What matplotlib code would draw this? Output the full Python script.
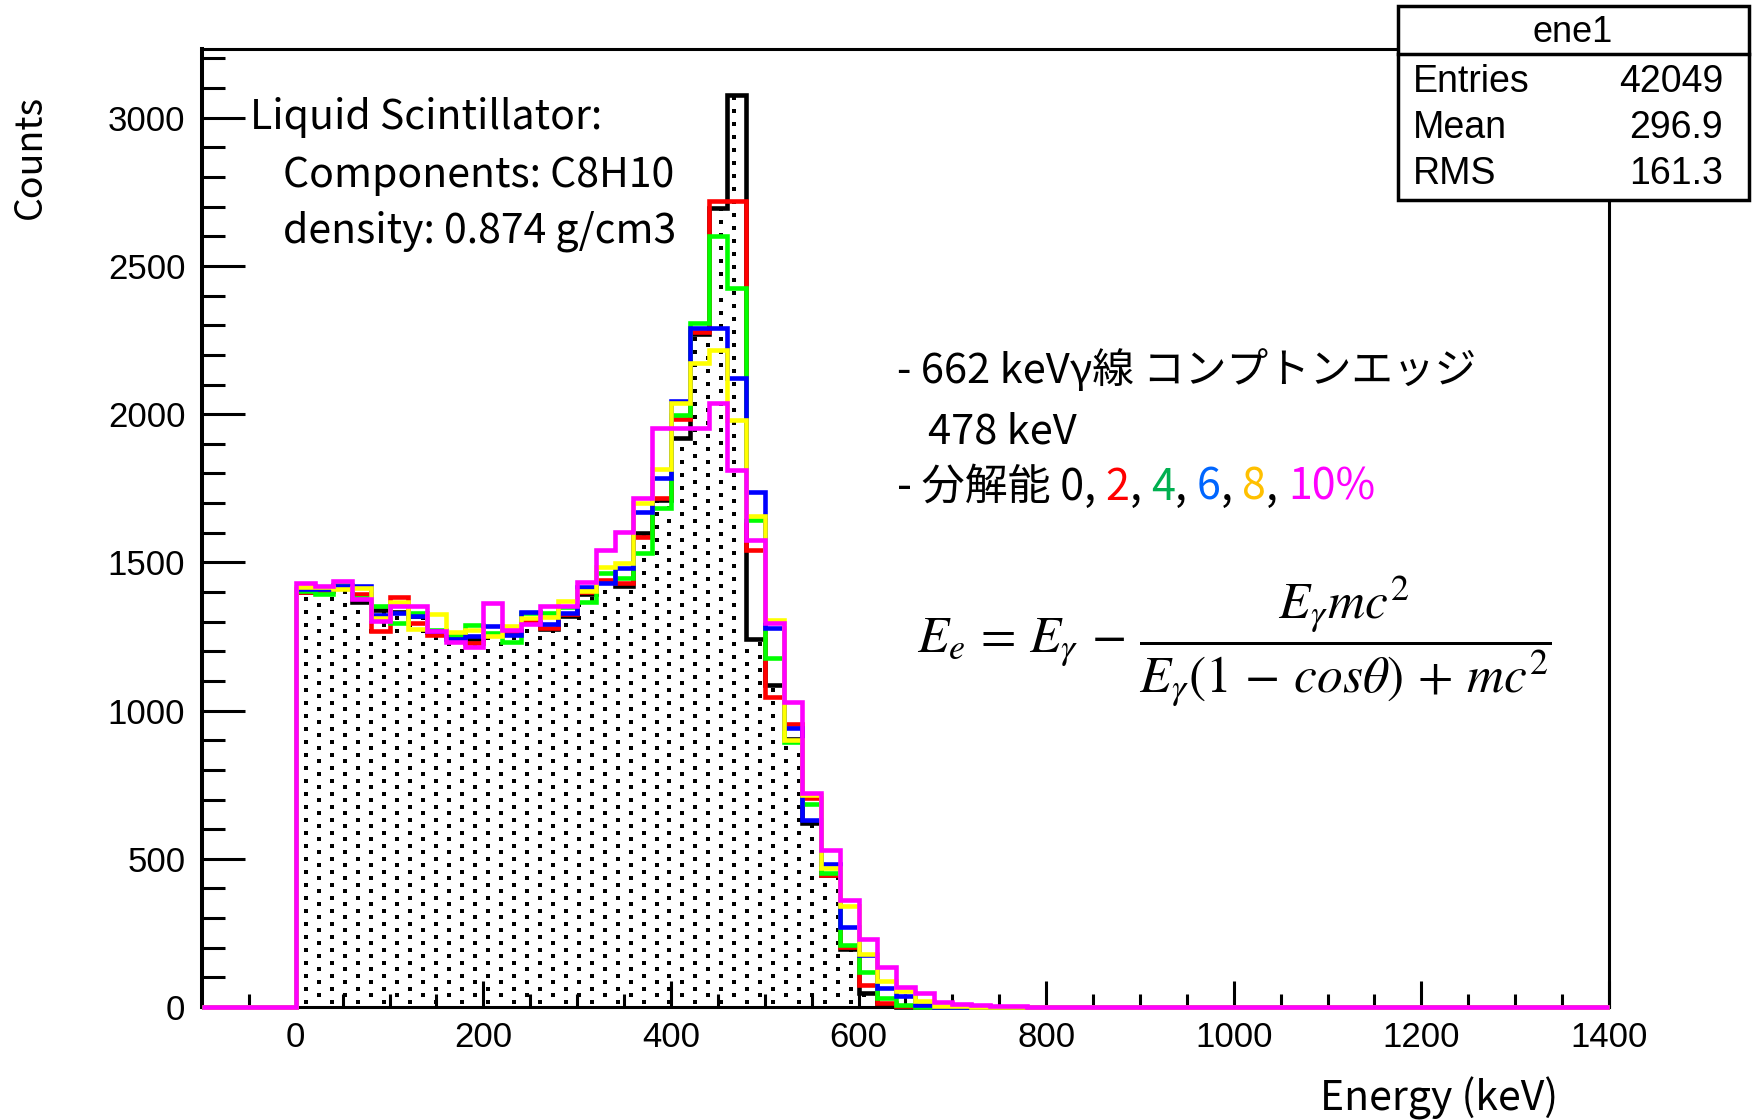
import matplotlib.pyplot as plt
import numpy as np
from matplotlib.patches import Rectangle
from matplotlib.lines import Line2D

# bin contents, 20 keV bins starting at 0 keV
res_0 = [1400, 1405, 1420, 1367, 1340, 1333, 1318, 1265, 1250, 1242,
         1255, 1265, 1300, 1274, 1319, 1395, 1435, 1420, 1598, 1710,
         1918, 2270, 2697, 3077, 1242, 1086, 905, 620, 445, 195,
         48, 8, 1]
res_2 = [1399, 1405, 1420, 1393, 1269, 1382, 1296, 1255, 1257, 1229,
         1260, 1262, 1301, 1277, 1325, 1400, 1441, 1432, 1587, 1716,
         1984, 2276, 2720, 2720, 1541, 1047, 955, 705, 445, 203,
         74, 12, 2]
res_4 = [1405, 1395, 1424, 1380, 1354, 1294, 1328, 1273, 1255, 1290,
         1262, 1230, 1328, 1330, 1350, 1368, 1465, 1447, 1532, 1685,
         1997, 2309, 2601, 2425, 1643, 1176, 895, 685, 452, 209,
         119, 29, 7, 1]
res_6 = [1409, 1410, 1420, 1422, 1321, 1330, 1320, 1270, 1243, 1250,
         1285, 1255, 1334, 1292, 1330, 1418, 1432, 1480, 1671, 1784,
         2046, 2290, 2290, 2121, 1737, 1277, 940, 631, 483, 271,
         175, 65, 37, 7, 1]
res_8 = [1418, 1418, 1409, 1412, 1312, 1367, 1275, 1325, 1265, 1272,
         1251, 1285, 1313, 1317, 1370, 1405, 1483, 1497, 1700, 1815,
         2037, 2172, 2217, 1980, 1656, 1306, 900, 715, 468, 342,
         180, 89, 54, 21, 4, 2, 1]
res_10 = [1429, 1422, 1437, 1378, 1303, 1352, 1352, 1269, 1231, 1215,
          1363, 1272, 1292, 1352, 1352, 1435, 1542, 1604, 1716, 1955,
          1955, 1955, 2037, 1812, 1576, 1294, 1030, 721, 531, 360,
          228, 136, 69, 46, 18, 10, 7, 4, 2, 1]

series = [res_0, res_2, res_4, res_6, res_8, res_10]
colors = ['black', '#ff0000', '#00ff00', '#0000ff', '#ffff00', '#ff00ff']

stats_names = ['Entries', 'Mean', 'RMS']
stats_vals = ['42049', '296.9', '161.3']

edges = np.arange(-100, 1401, 20)
nbins = len(edges) - 1


def full(v):
    h = np.zeros(nbins)
    h[5:5 + len(v)] = v
    return h


W, H = 1758, 1120


def fx(x):
    return x / W


def fy(y):
    return 1 - y / H


plt.rcParams['font.family'] = ['Liberation Sans', 'DejaVu Sans']
plt.rcParams['mathtext.fontset'] = 'stix'

fig = plt.figure(figsize=(W / 100, H / 100), dpi=100)
ax = fig.add_axes([fx(202), fy(1007), fx(1609) - fx(202), fy(49) - fy(1007)])

# dotted fill under the 0% histogram (ROOT style dot pattern)
area = ax.stairs(full(res_0), edges, fill=True, facecolor='none', linewidth=0)
dx, dy = 13.85, 43.86
cols = np.arange(-3.25, 1400, dx)
px, py = [], []
for i, c in enumerate(cols):
    ys = np.arange(40.2 - (i % 2) * dy / 2, 3232, dy)
    px.extend([c] * len(ys))
    py.extend(ys)
dots = ax.scatter(px, py, s=4.7, marker='s', color='black', linewidths=0)
dots.set_clip_path(area)

for v, c in zip(series, colors):
    ax.stairs(full(v), edges, color=c, linewidth=3.3, zorder=3, clip_on=False)

ax.set_xlim(-100, 1400)
ax.set_ylim(0, 3232)
ax.set_xticks(np.arange(0, 1401, 200))
ax.set_xticks(np.arange(-50, 1400, 50), minor=True)
ax.set_yticks(np.arange(0, 3001, 500))
ax.set_yticks(np.arange(100, 3232, 100), minor=True)
ax.tick_params(axis='y', which='major', direction='in', length=31, width=2.2,
               labelsize=25, pad=12)
ax.tick_params(axis='y', which='minor', direction='in', length=16.5, width=2.2)
ax.tick_params(axis='x', which='major', direction='in', length=19, width=2.2,
               labelsize=25, pad=10)
ax.tick_params(axis='x', which='minor', direction='in', length=9.5, width=2.2)
ax.spines['left'].set_linewidth(2.9)
for s in ['top', 'right', 'bottom']:
    ax.spines[s].set_linewidth(2.2)

jp = ['Noto Sans CJK JP', 'DejaVu Sans']

fig.text(fx(30), fy(95), 'Counts', rotation=90, ha='center', va='top',
         fontsize=27, family=jp)
fig.text(fx(1558), fy(1110), 'Energy (keV)', ha='right', va='baseline',
         fontsize=29.5, family=jp)

fig.text(fx(250), fy(129), 'Liquid Scintillator:', fontsize=29.5, family=jp,
         va='baseline')
fig.text(fx(283), fy(187), 'Components: C8H10', fontsize=29.5, family=jp,
         va='baseline')
fig.text(fx(283), fy(243), 'density: 0.874 g/cm3', fontsize=29.5, family=jp,
         va='baseline')

fig.text(fx(897), fy(383), '- 662 keVγ線 コンプトンエッジ', fontsize=30,
         family=jp, va='baseline')
fig.text(fx(928), fy(443), '478 keV', fontsize=30, family=jp, va='baseline')

parts = [('- 分解能 0, ', 'black'), ('2', '#ff0000'), (', ', 'black'),
         ('4', '#00b050'), (', ', 'black'), ('6', '#0066ff'), (', ', 'black'),
         ('8', '#ffc000'), (', ', 'black'), ('10%', '#ff00ff')]
renderer = fig.canvas.get_renderer()
xpos = 897
for s, c in parts:
    t = fig.text(fx(xpos), fy(500), s, color=c, fontsize=31, family=jp,
                 va='baseline')
    xpos += t.get_window_extent(renderer=renderer).width

fig.text(fx(917), fy(641),
         r'$E_e\,=\,E_\gamma\,-\,\dfrac{E_\gamma mc^2}'
         r'{E_\gamma(1\,-\,cos\theta)\,+\,mc^2}$',
         fontsize=37, va='center')

# stats box
fig.patches.append(Rectangle((fx(1398), fy(200)), fx(1749) - fx(1398),
                             fy(6) - fy(200), transform=fig.transFigure,
                             facecolor='white', edgecolor='black',
                             linewidth=2.5, zorder=5))
fig.lines.append(Line2D([fx(1398), fx(1749)], [fy(54), fy(54)],
                        transform=fig.transFigure, color='black',
                        linewidth=2.5, zorder=6))
fig.text(fx(1573), fy(33), 'ene1', ha='center', va='center', fontsize=26,
         zorder=7)
for i, (n, v) in enumerate(zip(stats_names, stats_vals)):
    yy = 82 + i * 46
    fig.text(fx(1413), fy(yy), n, ha='left', va='center', fontsize=27, zorder=7)
    fig.text(fx(1723), fy(yy), v, ha='right', va='center', fontsize=27, zorder=7)

fig.savefig('out.png', dpi=100)
